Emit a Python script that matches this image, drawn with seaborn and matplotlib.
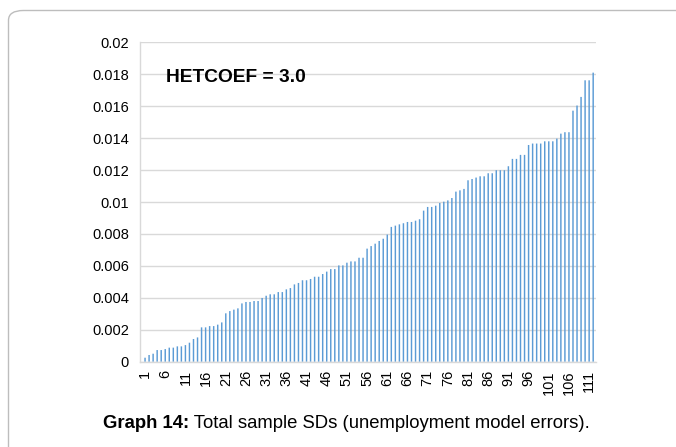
import matplotlib
matplotlib.use("Agg")
import matplotlib.pyplot as plt
import seaborn as sns
import pandas as pd
import numpy as np
from matplotlib.patches import FancyBboxPatch

# ---- data ----
sample_ids = list(range(1, 113))
sd_values = [
    0.00025, 0.00042, 0.00050, 0.00073, 0.00073, 0.00079, 0.00088, 0.00088, 0.00096, 0.00096,
    0.00104, 0.00119, 0.00142, 0.00152, 0.00215, 0.00215, 0.00223, 0.00223, 0.00232, 0.00246,
    0.00303, 0.00317, 0.00326, 0.00334, 0.00365, 0.00374, 0.00374, 0.00380, 0.00380, 0.00399,
    0.00413, 0.00422, 0.00422, 0.00436, 0.00436, 0.00453, 0.00461, 0.00484, 0.00493, 0.00510,
    0.00510, 0.00518, 0.00532, 0.00532, 0.00549, 0.00564, 0.00580, 0.00580, 0.00603, 0.00603,
    0.00620, 0.00628, 0.00628, 0.00651, 0.00651, 0.00708, 0.00724, 0.00739, 0.00756, 0.00770,
    0.00796, 0.00844, 0.00852, 0.00860, 0.00867, 0.00875, 0.00875, 0.00883, 0.00892, 0.00946,
    0.00969, 0.00969, 0.00977, 0.00994, 0.01002, 0.01010, 0.01025, 0.01065, 0.01073, 0.01082,
    0.01136, 0.01144, 0.01153, 0.01161, 0.01161, 0.01180, 0.01180, 0.01199, 0.01199, 0.01199,
    0.01224, 0.01270, 0.01270, 0.01295, 0.01295, 0.01357, 0.01366, 0.01366, 0.01366, 0.01380,
    0.01380, 0.01380, 0.01397, 0.01428, 0.01437, 0.01437, 0.01572, 0.01604, 0.01658, 0.01762,
    0.01762, 0.01810,
]
y_ticks = [0, 0.002, 0.004, 0.006, 0.008, 0.01, 0.012, 0.014, 0.016, 0.018, 0.02]
y_tick_labels = ["0", "0.002", "0.004", "0.006", "0.008", "0.01", "0.012", "0.014", "0.016", "0.018", "0.02"]
x_tick_labels = [str(i) for i in range(1, 113, 5)]
annotation = "HETCOEF = 3.0"
caption_bold = "Graph 14:"
caption_rest = " Total sample SDs (unemployment model errors)."

df = pd.DataFrame({"sample": [str(s) for s in sample_ids], "sd": sd_values})

sns.set_theme(style="white")
plt.rcParams["font.family"] = ["Liberation Sans", "DejaVu Sans"]

W, H = 676, 447
fig = plt.figure(figsize=(W / 100, H / 100), dpi=100)

# outer frame (rounded, extends past right and bottom edges)
frame = FancyBboxPatch((8.5 / W, -0.1), 1.2, (H - 10.5) / H + 0.1,
                       boxstyle="round,pad=0,rounding_size=0.022",
                       transform=fig.transFigure, fill=False,
                       edgecolor="#BDBDBD", linewidth=1.0, clip_on=False)
fig.patches.append(frame)

left, right, bottom, top = 140, 596, 361.7, 42.3
ax = fig.add_axes([left / W, 1 - bottom / H, (right - left) / W, (bottom - top) / H])

bar_color = "#5B9BD5"
sns.barplot(data=df, x="sample", y="sd", ax=ax, color=bar_color,
            width=0.36, edgecolor=bar_color, linewidth=0.0, saturation=1)
for p in ax.patches:
    p.set_snap(False)
    p.set_edgecolor("none")
    p.set_facecolor(bar_color)

ax.set_xlim(-1.25, 111.7)
ax.set_ylim(0, 0.02)
ax.set_yticks(y_ticks)
ax.set_yticklabels(y_tick_labels)
ax.set_xticks(list(range(0, 112, 5)))
ax.set_xticklabels(x_tick_labels, rotation=90)
ax.set_xlabel("")
ax.set_ylabel("")

ax.grid(axis="y", color="#D9D9D9", linewidth=1.0)
ax.set_axisbelow(True)
for s in ["top", "right"]:
    ax.spines[s].set_visible(False)
for s in ["left", "bottom"]:
    ax.spines[s].set_color("#D9D9D9")
    ax.spines[s].set_linewidth(1.0)

ax.tick_params(axis="y", length=0, pad=8, labelsize=10.5, labelcolor="#000000")
ax.tick_params(axis="x", length=0, pad=6, labelsize=10.5, labelcolor="#000000")

ax.text(0.057, 0.877, annotation, transform=ax.transAxes, fontsize=13.8,
        fontweight="bold", va="baseline", ha="left", color="black")

# caption: bold part followed by regular part
fig.canvas.draw()
renderer = fig.canvas.get_renderer()
cap_y = 1 - 428.5 / H
t1 = fig.text(103 / W, cap_y, caption_bold, fontsize=13.3, fontweight="bold",
              va="baseline", ha="left", color="black")
bb = t1.get_window_extent(renderer=renderer)
fig.text(bb.x1 / W, cap_y, caption_rest, fontsize=13.3, va="baseline",
         ha="left", color="black")

fig.savefig("out.png", dpi=100)
